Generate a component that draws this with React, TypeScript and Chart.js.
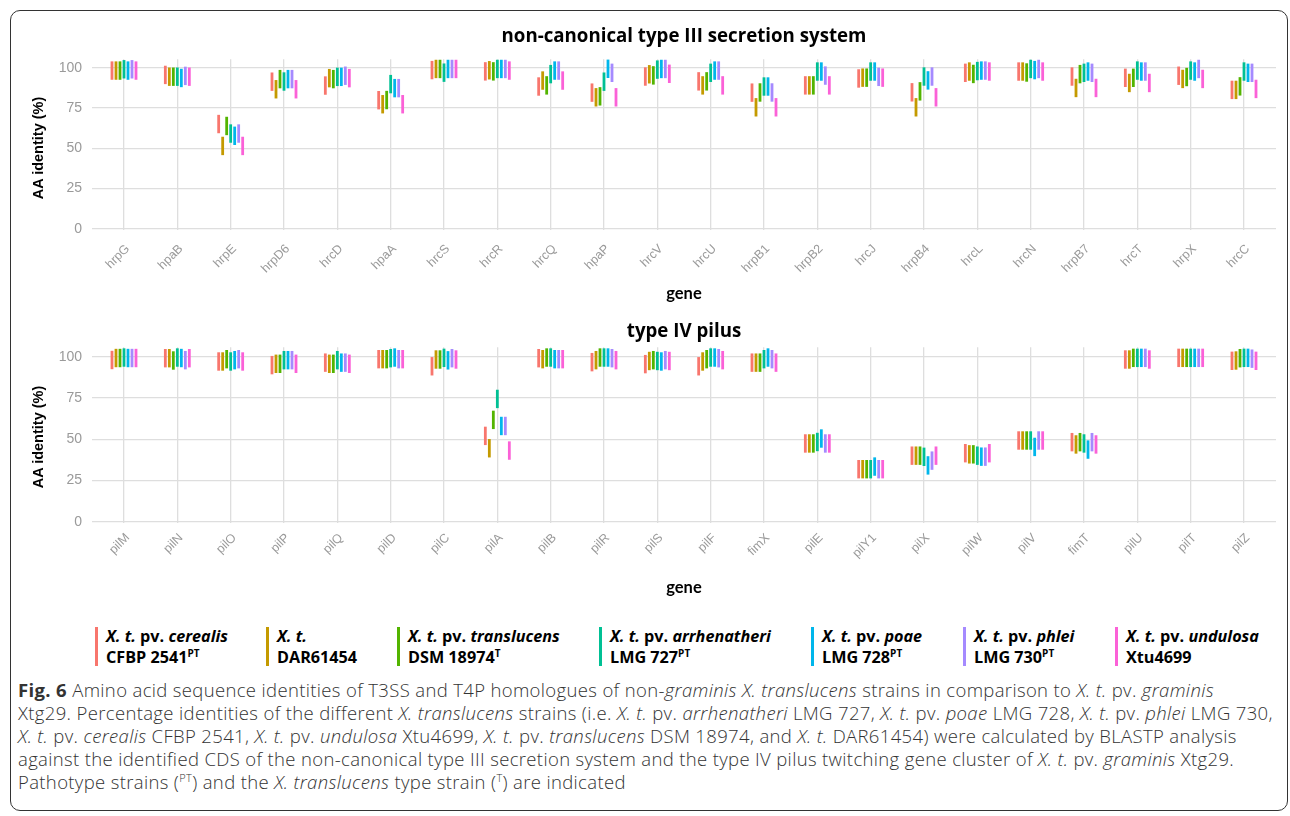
import React, { useEffect, useRef } from "react";
import { Chart, registerables } from "chart.js";

Chart.register(...registerables);

// ---------------- data ----------------
const strainColors = ["#F8766D", "#C49A00", "#53B400", "#00C094", "#00B6EB", "#A58AFF", "#FB61D7"];
const strainSpecies = ["cerealis", "", "translucens", "arrhenatheri", "poae", "phlei", "undulosa"];
const strainIds = ["CFBP 2541", "DAR61454", "DSM 18974", "LMG 727", "LMG 728", "LMG 730", "Xtu4699"];
const strainSup = ["PT", "", "T", "PT", "PT", "PT", ""];

const yTickValues = [0, 25, 50, 75, 100];

const t3ssGenes = ["hrpG", "hpaB", "hrpE", "hrpD6", "hrcD", "hpaA", "hrcS", "hrcR", "hrcQ", "hpaP", "hrcV", "hrcU", "hrpB1", "hrpB2", "hrcJ", "hrpB4", "hrcL", "hrcN", "hrpB7", "hrcT", "hrpX", "hrcC"];
const t3Cerealis = [98.2, 95.5, 65.0, 91.3, 88.9, 79.8, 98.5, 97.7, 88.3, 84.5, 94.5, 91.5, 84.5, 89.0, 93.3, 84.7, 96.8, 97.6, 94.5, 93.7, 95.0, 86.2];
const t3Dar61454 = [98.2, 94.4, 51.4, 86.6, 93.5, 77.3, 99.2, 98.4, 92.0, 81.6, 95.9, 89.0, 75.4, 89.0, 93.8, 75.4, 97.6, 97.6, 87.4, 90.5, 93.0, 86.2];
const t3Translucens = [98.2, 94.4, 63.8, 92.9, 92.9, 79.9, 99.2, 97.7, 89.0, 82.2, 95.2, 91.5, 84.6, 89.0, 93.8, 85.3, 96.1, 97.0, 96.0, 93.7, 94.2, 88.4];
const t3Arrhenatheri = [99.0, 94.4, 59.1, 91.4, 94.3, 89.8, 96.9, 99.2, 96.0, 91.3, 98.8, 96.8, 88.3, 97.6, 97.6, 94.5, 97.9, 99.2, 96.8, 98.2, 98.2, 97.6];
const t3Poae = [98.2, 93.6, 57.7, 92.9, 94.3, 87.3, 99.2, 99.2, 98.2, 99.3, 99.2, 98.2, 88.3, 97.6, 97.6, 92.1, 98.2, 98.5, 97.6, 97.6, 97.6, 96.8];
const t3Phlei = [99.0, 94.9, 59.1, 92.9, 95.0, 87.3, 99.2, 99.2, 98.2, 96.8, 99.2, 98.2, 84.6, 95.1, 94.3, 94.5, 98.2, 99.2, 96.8, 97.6, 99.2, 96.8];
const t3Undulosa = [98.2, 94.4, 51.4, 86.6, 93.5, 77.3, 99.2, 98.2, 92.0, 81.6, 96.2, 89.0, 75.4, 89.0, 93.8, 81.6, 97.6, 97.6, 87.4, 90.5, 93.0, 86.8];

const t4pGenes = ["pilM", "pilN", "pilO", "pilP", "pilQ", "pilD", "pilC", "pilA", "pilB", "pilR", "pilS", "pilF", "fimX", "pilE", "pilY1", "pilX", "pilW", "pilV", "fimT", "pilU", "pilT", "pilZ"];
const t4Cerealis = [98.0, 99.1, 97.1, 94.9, 96.4, 98.5, 94.2, 52.0, 99.1, 96.7, 95.5, 94.2, 96.4, 47.4, 31.8, 40.0, 41.5, 49.2, 48.2, 98.3, 99.3, 97.5];
const t4Dar61454 = [99.2, 99.1, 97.1, 95.7, 95.7, 98.5, 98.3, 44.5, 98.5, 97.9, 97.4, 97.1, 96.4, 47.4, 31.8, 40.0, 40.8, 49.2, 46.8, 98.3, 99.3, 97.7];
const t4Translucens = [99.2, 97.7, 98.5, 95.7, 95.7, 98.5, 98.3, 61.7, 99.5, 99.5, 97.9, 98.5, 96.4, 47.4, 31.8, 40.0, 40.8, 49.2, 48.2, 99.3, 99.3, 99.1];
const t4Arrhenatheri = [99.5, 99.5, 97.1, 97.9, 97.9, 99.1, 99.3, 74.4, 99.5, 99.5, 97.4, 99.5, 98.5, 48.3, 31.8, 39.3, 40.0, 49.2, 47.4, 99.3, 99.3, 99.3];
const t4Poae = [99.2, 99.2, 97.9, 97.9, 96.4, 99.5, 97.8, 58.0, 98.5, 99.5, 97.1, 99.5, 99.5, 50.4, 33.4, 34.1, 39.4, 45.3, 43.7, 99.3, 99.3, 99.3];
const t4Phlei = [99.2, 97.9, 98.5, 97.9, 96.4, 98.5, 99.1, 58.0, 98.5, 99.1, 97.9, 99.1, 98.5, 47.4, 31.8, 37.0, 39.4, 49.2, 48.2, 99.3, 99.3, 98.8];
const t4Undulosa = [99.2, 99.1, 97.1, 95.7, 95.7, 98.5, 98.3, 43.1, 98.5, 97.9, 97.4, 97.9, 96.4, 47.4, 31.8, 40.0, 41.5, 49.2, 46.8, 98.3, 99.3, 97.5];

const t3Series = [t3Cerealis, t3Dar61454, t3Translucens, t3Arrhenatheri, t3Poae, t3Phlei, t3Undulosa];
const t4Series = [t4Cerealis, t4Dar61454, t4Translucens, t4Arrhenatheri, t4Poae, t4Phlei, t4Undulosa];

// ---------------- style constants ----------------
const GRID = "#dedede";
const TICK_COLOR = "#9a9a9a";
const TICK_FONT = "'Liberation Sans', Arial, sans-serif";
const DODGE = 0.075; // horizontal spacing of strains within a gene (category units)
const HEAD_FONT = "'Open Sans', sans-serif";

// draws the x tick labels rotated by 45deg, anchored at the tick positions of the x scale
const rotatedXLabels = {
  id: "rotatedXLabels",
  afterDraw(chart: any, _args: any, opts: any) {
    const { ctx, chartArea } = chart;
    const xs = chart.scales.x;
    ctx.save();
    ctx.font = `${opts.size}px ${TICK_FONT}`;
    ctx.fillStyle = TICK_COLOR;
    ctx.textAlign = "right";
    ctx.textBaseline = "top";
    (opts.labels as string[]).forEach((label, i) => {
      const px = xs.getPixelForValue(i);
      ctx.save();
      ctx.translate(px + opts.dx, chartArea.bottom + opts.dy);
      ctx.rotate(-Math.PI / 4);
      ctx.fillText(label, 0, 0);
      ctx.restore();
    });
    ctx.restore();
  },
};

type PanelProps = {
  genes: string[];
  series: number[][];
  top: number;
  height: number;
  padTop: number;
  xAxisHeight: number;
  yMin: number;
  yMax: number;
  labelDy: number;
};

function Panel({ genes, series, top, height, padTop, xAxisHeight, yMin, yMax, labelDy }: PanelProps) {
  const ref = useRef<HTMLCanvasElement | null>(null);
  useEffect(() => {
    if (!ref.current) return;
    const chart = new Chart(ref.current, {
      type: "scatter",
      data: {
        datasets: series.map((vals, j) => ({
          label: strainIds[j],
          data: vals.map((v, i) => ({ x: i + (j - 3) * DODGE, y: v })),
          pointStyle: "line",
          rotation: 90,
          pointRadius: 9.2,
          pointHoverRadius: 9.2,
          pointBorderWidth: 2.8,
          pointHoverBorderWidth: 2.8,
          borderWidth: 2.8,
          borderColor: strainColors[j],
          backgroundColor: strainColors[j],
          showLine: false,
          clip: false,
        })),
      },
      plugins: [rotatedXLabels],
      options: {
        animation: false,
        responsive: false,
        events: [],
        layout: { padding: { top: padTop, right: 14, left: 0, bottom: 0 } },
        plugins: {
          legend: { display: false },
          tooltip: { enabled: false },
          title: { display: false },
          rotatedXLabels: { labels: genes, size: 12.5, dx: -0.7, dy: labelDy },
        },
        scales: {
          x: {
            type: "linear",
            min: -0.6,
            max: genes.length - 0.4,
            afterBuildTicks: (s: any) => {
              s.ticks = genes.map((_, i) => ({ value: i }));
            },
            afterFit: (s: any) => {
              s.height = xAxisHeight;
            },
            grid: { color: GRID, lineWidth: 1.3, drawTicks: false },
            border: { display: false },
            ticks: { display: false },
          },
          y: {
            min: yMin,
            max: yMax,
            afterBuildTicks: (s: any) => {
              s.ticks = yTickValues.map((v) => ({ value: v }));
            },
            afterFit: (s: any) => {
              s.width = 92;
            },
            grid: { color: GRID, lineWidth: 1.3, drawTicks: false },
            border: { display: false },
            ticks: {
              padding: 10,
              color: TICK_COLOR,
              font: { family: TICK_FONT, size: 14 },
            },
          },
        },
      } as any,
    });
    return () => chart.destroy();
  }, []);
  return (
    <canvas
      ref={ref}
      width={1290}
      height={height}
      style={{ position: "absolute", left: 0, top, width: 1290, height }}
    />
  );
}

const abs = (extra: React.CSSProperties): React.CSSProperties => ({ position: "absolute", ...extra });

function PanelTexts({ title, titleY, yTitleY, geneY }: { title: string; titleY: number; yTitleY: number; geneY: number }) {
  return (
    <>
      <div style={abs({ left: 92, width: 1184, top: titleY - 14, height: 28, lineHeight: "28px", textAlign: "center", fontFamily: HEAD_FONT, fontWeight: 700, fontSize: 18.7, color: "#000", whiteSpace: "nowrap" })}>{title}</div>
      <div style={abs({ left: 38, top: yTitleY, transform: "translate(-50%, -50%) rotate(-90deg)", fontFamily: TICK_FONT, fontWeight: 700, fontSize: 14.5, color: "#000", whiteSpace: "nowrap" })}>AA identity (%)</div>
      <div style={abs({ left: 92, width: 1184, top: geneY - 12, height: 24, lineHeight: "24px", textAlign: "center", fontFamily: "Lato, sans-serif", fontWeight: 700, fontSize: 16.5, color: "#000" })}>gene</div>
    </>
  );
}

const legendLefts = [95, 266, 397, 599, 811, 963, 1115];

function LegendItem({ j }: { j: number }) {
  const left = legendLefts[j];
  return (
    <>
      <div style={abs({ left, top: 627, width: 3, height: 39, background: strainColors[j] })} />
      <div style={abs({ left: left + 11, top: 626, fontFamily: HEAD_FONT, fontWeight: 700, fontSize: 16.2, lineHeight: "21px", color: "#000", whiteSpace: "nowrap" })}>
        <div>
          <i>X. t.</i>
          {strainSpecies[j] ? (
            <>
              {" pv. "}
              <i>{strainSpecies[j]}</i>
            </>
          ) : null}
        </div>
        <div>
          {strainIds[j]}
          {strainSup[j] ? <sup style={{ fontSize: 10, verticalAlign: "6px", lineHeight: 0 }}>{strainSup[j]}</sup> : null}
        </div>
      </div>
    </>
  );
}

const captionStyle: React.CSSProperties = {
  fontFamily: "'Open Sans', sans-serif",
  fontWeight: 300,
  fontSize: 18.5,
  letterSpacing: "0.35px",
  color: "#333",
  whiteSpace: "nowrap",
  lineHeight: "23px",
};

const supStyle: React.CSSProperties = { fontSize: 11, lineHeight: 0 };

function Caption() {
  return (
    <div style={abs({ left: 18, top: 678, ...captionStyle })}>
      <div>
        <b style={{ fontWeight: 700 }}>Fig. 6</b> Amino acid sequence identities of T3SS and T4P homologues of non-<i>graminis X. translucens</i> strains in comparison to <i>X. t.</i> pv. <i>graminis</i>
      </div>
      <div>
        Xtg29. Percentage identities of the different <i>X. translucens</i> strains (i.e. <i>X. t.</i> pv. <i>arrhenatheri</i> LMG 727, <i>X. t.</i> pv. <i>poae</i> LMG 728, <i>X. t.</i> pv. <i>phlei</i> LMG 730,
      </div>
      <div>
        <i>X. t.</i> pv. <i>cerealis</i> CFBP 2541, <i>X. t.</i> pv. <i>undulosa</i> Xtu4699, <i>X. t.</i> pv. <i>translucens</i> DSM 18974, and <i>X. t.</i> DAR61454) were calculated by BLASTP analysis
      </div>
      <div>
        against the identified CDS of the non-canonical type III secretion system and the type IV pilus twitching gene cluster of <i>X. t.</i> pv. <i>graminis</i> Xtg29.
      </div>
      <div>
        Pathotype strains (<sup style={supStyle}>PT</sup>) and the <i>X. translucens</i> type strain (<sup style={supStyle}>T</sup>) are indicated
      </div>
    </div>
  );
}

export default function App() {
  return (
    <div style={abs({ left: 0, top: 0, width: 1290, height: 816, background: "#fff", overflow: "hidden" })}>
      <div style={abs({ left: 10, top: 10, width: 1278, height: 801, border: "1.5px solid #333", borderRadius: 10, boxSizing: "border-box" })} />
      <Panel genes={t3ssGenes} series={t3Series} top={20} height={290} padTop={39.3} xAxisHeight={80} yMin={-0.8} yMax={105.2} labelDy={12.4} />
      <Panel genes={t4pGenes} series={t4Series} top={310} height={290} padTop={37.3} xAxisHeight={76.7} yMin={-1} yMax={105.7} labelDy={8.1} />
      <PanelTexts title="non-canonical type III secretion system" titleY={35} yTitleY={148} geneY={293} />
      <PanelTexts title="type IV pilus" titleY={330} yTitleY={437} geneY={587} />
      {strainIds.map((_, j) => (
        <LegendItem key={j} j={j} />
      ))}
      <Caption />
    </div>
  );
}
